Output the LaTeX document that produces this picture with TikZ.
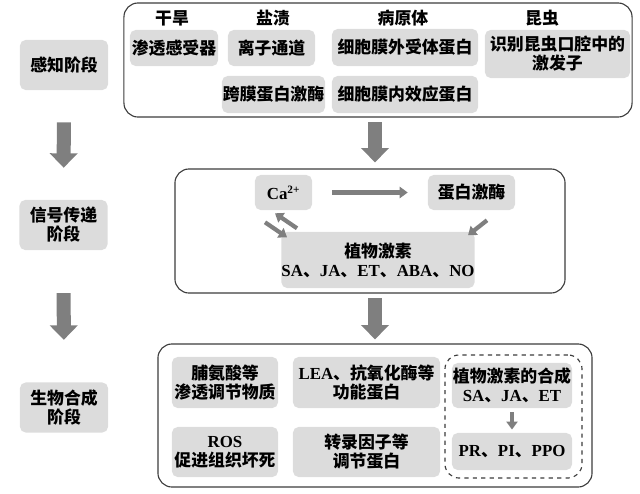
\documentclass[tikz,border=0pt]{standalone}
\usepackage{fontspec}
\setmainfont{Noto Sans CJK SC}
\newfontfamily\lat{Liberation Serif}
\usetikzlibrary{arrows.meta,positioning,calc}
\definecolor{boxgray}{HTML}{DCDCDC}
\definecolor{arrgray}{HTML}{7F7F7F}
\definecolor{linegray}{HTML}{3C3C3C}
\newcommand{\en}[1]{{\lat\bfseries #1}}

\begin{document}
\begin{tikzpicture}[
  x=0.025cm, y=-0.025cm,
  font=\fontsize{12}{13.5}\selectfont\bfseries,
  box/.style={fill=boxgray, rounded corners=4pt, align=center, inner sep=0pt},
  stage/.style={box, minimum width=2.2cm, minimum height=1.25cm},
  frame/.style={draw=linegray, line width=0.8pt, rounded corners=10pt},
  dframe/.style={frame, dashed},
  bigarr/.style={draw=arrgray, line width=0.35cm, -{Triangle[length=0.36cm, width=0.68cm]}},
  arr/.style={draw=arrgray, line width=3.3pt, -{Triangle[length=2mm, width=2.8mm]}},
]
\useasboundingbox (0,0) rectangle (640,494);

% stages on the left
\node[stage] (sense) at (64,65) {感知阶段};
\node[stage] (signal) at (63.5,225) {信号传递\\阶段};
\node[stage] (synth) at (64,407.5) {生物合成\\阶段};

\draw[bigarr, shorten <=0.8cm, shorten >=0.8cm] (sense.south) -- (signal.north);
\draw[bigarr, shorten <=1.07cm, shorten >=1.06cm] (signal.south) -- (synth.north);

% perception
\node[frame, minimum width=12.7cm, minimum height=2.85cm] (top) at (378,60) {};
\node (drought) at (172,18) {干旱};
\node (salt) at (273,18) {盐渍};
\node (patho) at (403,18) {病原体};
\node (insect) at (542,18) {昆虫};
\node[box, minimum width=2.2cm, minimum height=0.9cm] (osmo) at (174,48) {渗透感受器};
\node[box, minimum width=2.175cm, minimum height=0.9cm] (ion) at (271.5,48) {离子通道};
\node[box, minimum width=3.65cm, minimum height=0.925cm] (outrec) at (405,47.5) {细胞膜外受体蛋白};
\node[box, minimum width=3.625cm, minimum height=1.2cm] (elic) at (557.5,54) {识别昆虫口腔中的\\激发子};
\node[box, minimum width=2.575cm, minimum height=0.925cm] (tmk) at (273.5,94.5) {跨膜蛋白激酶};
\node[box, minimum width=3.65cm, minimum height=0.925cm] (ineff) at (405,94.5) {细胞膜内效应蛋白};

% signal transduction
\node[frame, minimum width=9.75cm, minimum height=3.1cm] (mid) at (370,231) {};
\node[box, minimum width=1.425cm, minimum height=0.875cm] (ca) at (283.5,192.5) {\en{Ca\textsuperscript{2+}}};
\node[box, minimum width=2.175cm, minimum height=0.875cm] (kin) at (471.5,192.5) {蛋白激酶};
\node[box, minimum width=4.25cm, minimum height=1.4cm] (horm) at (378,260) {植物激素\\\en{SA}、\en{JA}、\en{ET}、\en{ABA}、\en{NO}};

\draw[arr, shorten <=0.5cm, shorten >=0.5cm] (ca.east) -- (kin.west);
\draw[arr, line width=3pt] ($(ca.south)+(13.5,18)$) -- ($(ca.south)+(-8.5,3)$);
\draw[arr, line width=3pt] ($(ca.south)+(-18.5,12)$) -- ($(ca.south)+(3.5,27)$);
\draw[arr, line width=3pt] ($(kin.south)+(15.5,10)$) -- ($(kin.south)+(-3.5,25)$);

% biosynthesis
\node[frame, minimum width=10.85cm, minimum height=3.575cm] (bot) at (375,415.5) {};
\node[dframe, minimum width=3.425cm, minimum height=3.075cm] (hsyn) at (513.5,416.5) {};
\node[box, minimum width=2.65cm, minimum height=1.275cm] (prol) at (225,382.5) {脯氨酸等\\渗透调节物质};
\node[box, minimum width=3.675cm, minimum height=1.275cm] (lea) at (366.5,382.5) {\en{LEA}、抗氧化酶等\\功能蛋白};
\node[box, minimum width=3cm, minimum height=1.125cm] (hs) at (512,385.5) {植物激素的合成\\\en{SA}、\en{JA}、\en{ET}};
\node[box, minimum width=2.65cm, minimum height=1.25cm] (ros) at (225,452) {\en{ROS}\\促进组织坏死};
\node[box, minimum width=3.675cm, minimum height=1.25cm] (tf) at (366.5,452) {转录因子等\\调节蛋白};
\node[box, minimum width=3cm, minimum height=0.925cm] (pr) at (512,451.5) {\en{PR}、\en{PI}、\en{PPO}};

\draw[arr, line width=3pt, shorten <=0.1cm, shorten >=0.08cm] (hs.south) -- (pr.north);

% between frames
\draw[bigarr, shorten <=0.12cm, shorten >=0.15cm] (top.south -| bot.north) -- (mid.north -| bot.north);
\draw[bigarr, shorten <=0.12cm, shorten >=0.1cm] (mid.south -| bot.north) -- (bot.north);
\end{tikzpicture}
\end{document}
